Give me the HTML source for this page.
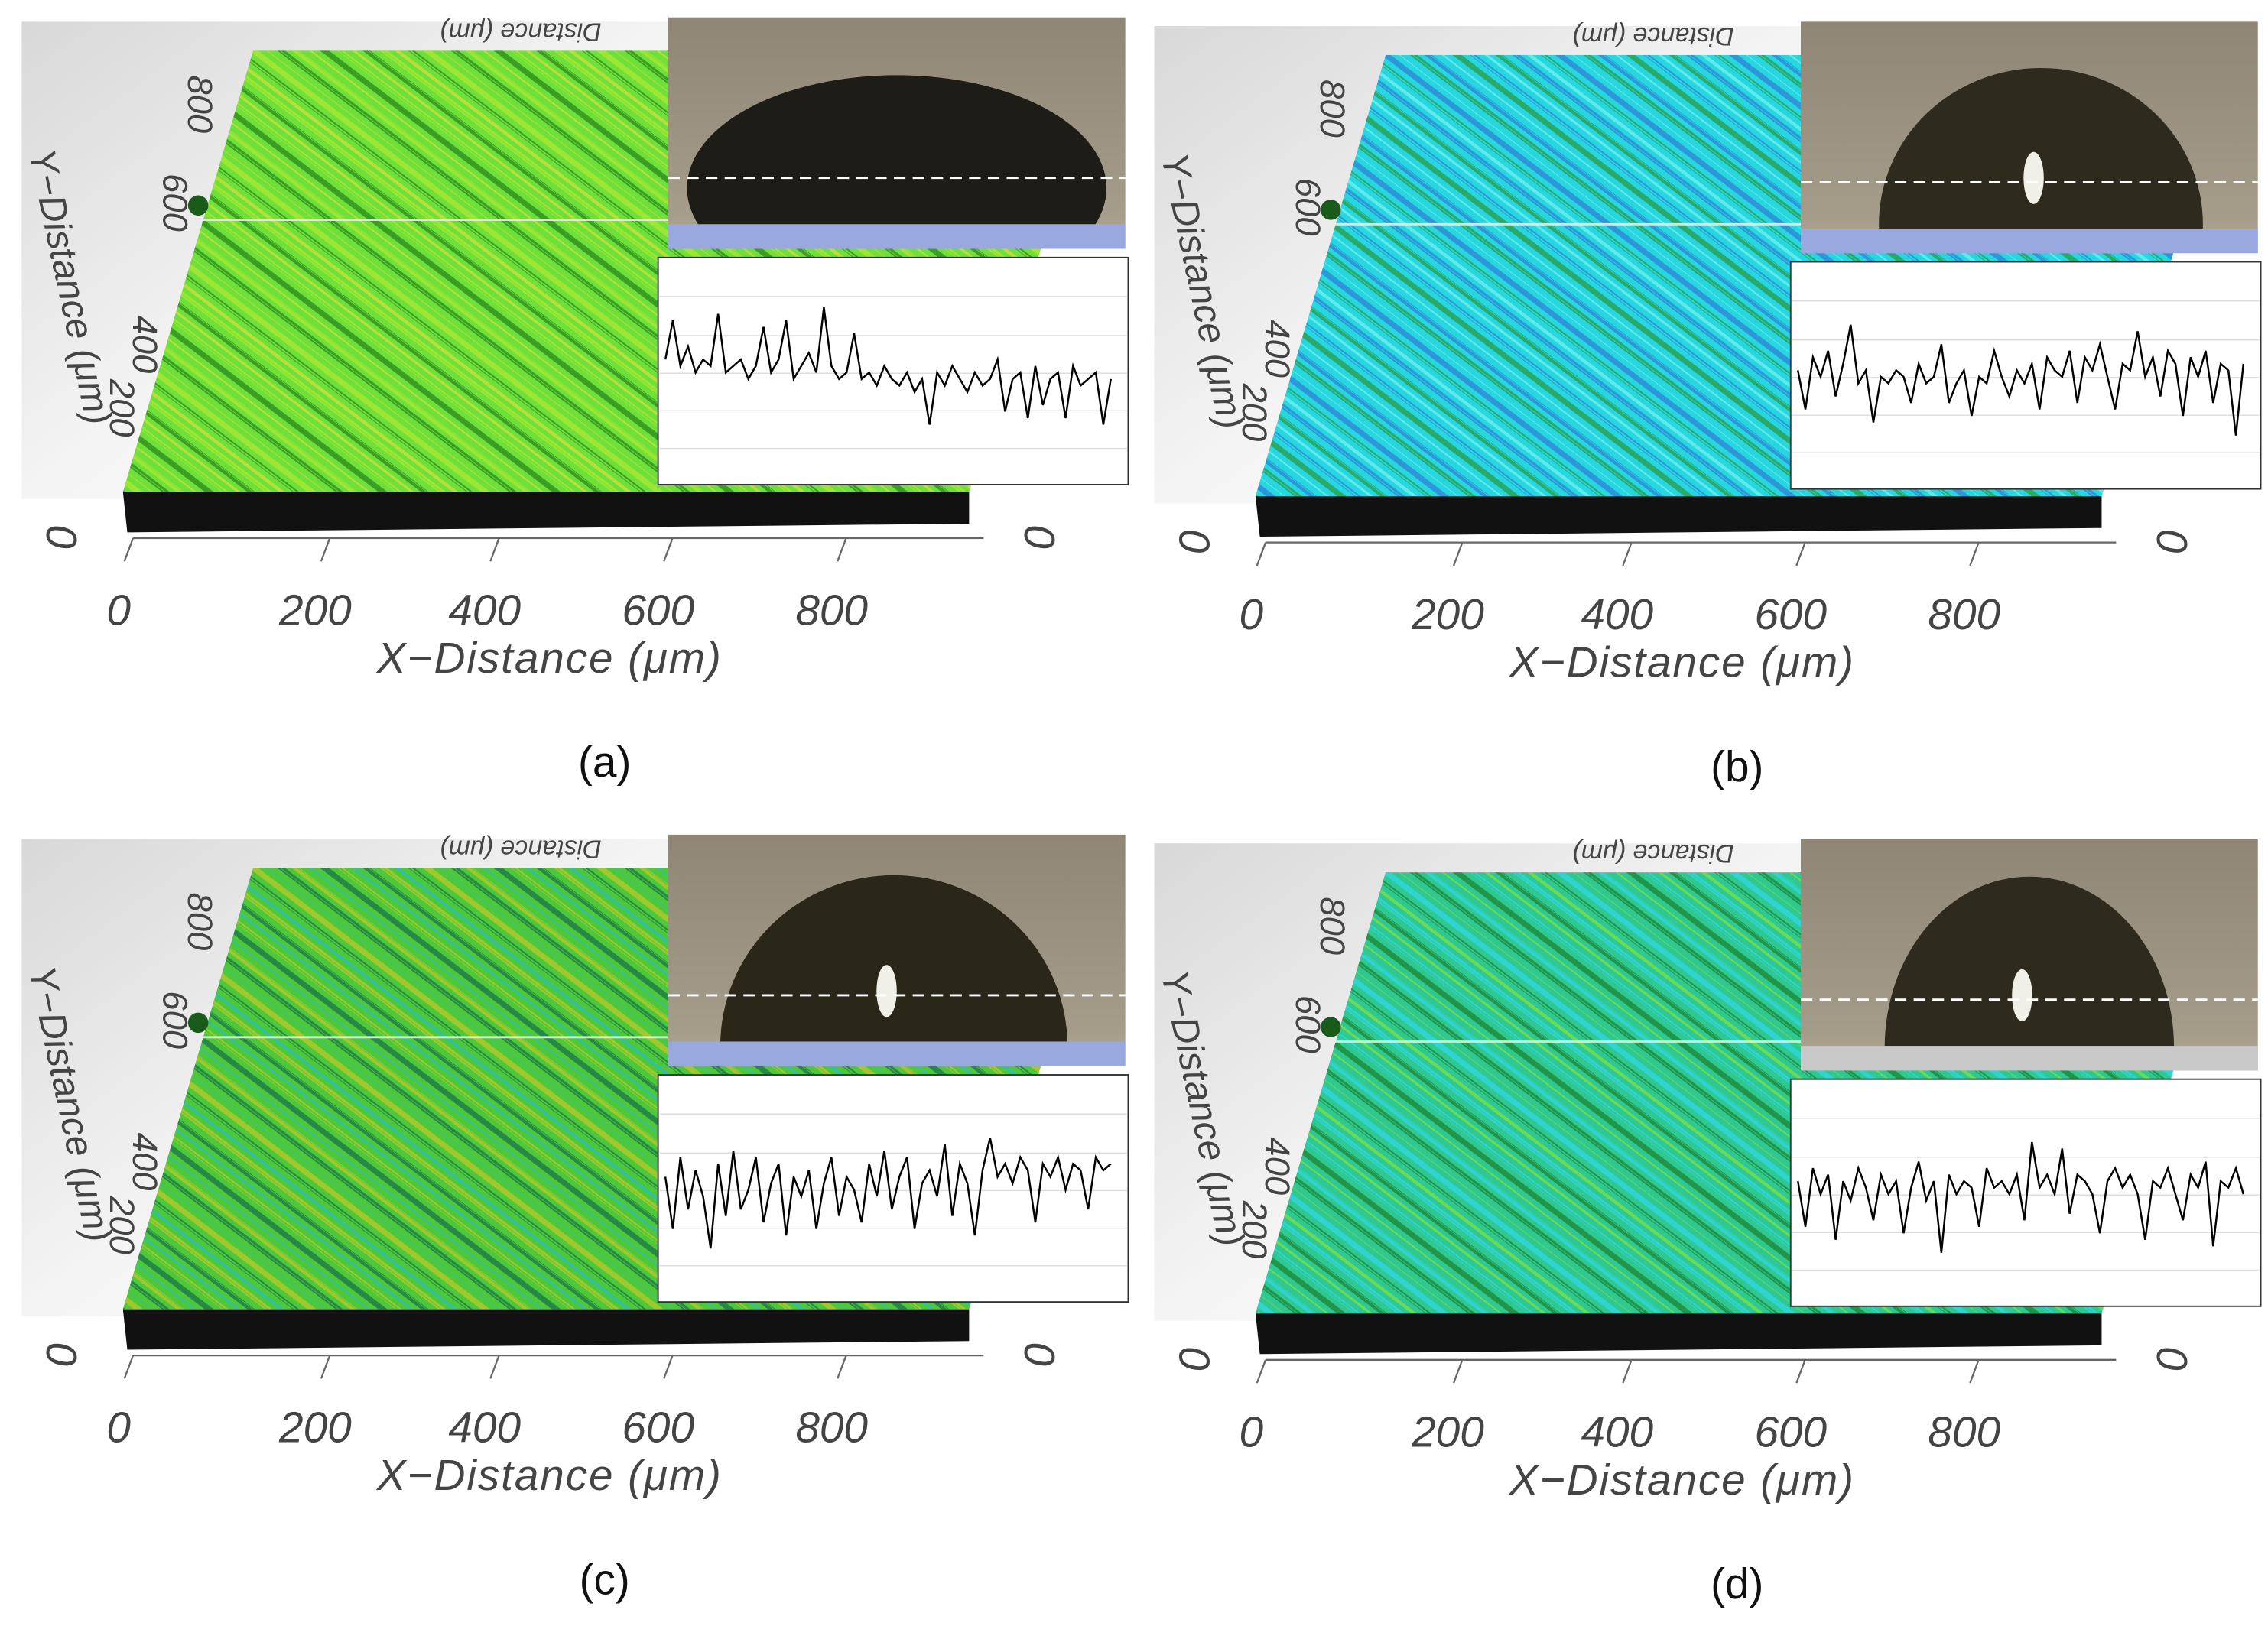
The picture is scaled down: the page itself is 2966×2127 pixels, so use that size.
<!DOCTYPE html>
<html><head><meta charset="utf-8">
<style>
html,body{margin:0;padding:0;background:#fff;}
svg{display:block;}
text{font-family:"Liberation Sans",sans-serif;}
</style></head>
<body>
<svg id="fig" width="2966" height="2127" viewBox="0 0 1568 1124" preserveAspectRatio="none" xmlns="http://www.w3.org/2000/svg">
<defs>
<linearGradient id="bgGrad" x1="0" y1="0" x2="1" y2="1">
<stop offset="0" stop-color="#d8d8d8"/><stop offset="0.5" stop-color="#f4f4f4"/><stop offset="1" stop-color="#ffffff"/>
</linearGradient>
<linearGradient id="photoBg" x1="0" y1="0" x2="0" y2="1">
<stop offset="0" stop-color="#8f8676"/><stop offset="0.85" stop-color="#a59c8a"/><stop offset="1" stop-color="#b5ad9a"/>
</linearGradient>
</defs>
</svg>
<script>
// profile data (relative height, positive = up), one array per panel
const profA=[0.3,0.9,0.2,0.5,0.1,0.3,0.2,1.0,0.1,0.2,0.3,0.0,0.2,0.8,0.1,0.3,0.9,0.0,0.2,0.4,0.1,1.1,0.2,0.0,0.1,0.7,0.0,0.1,-0.1,0.2,0.0,-0.1,0.1,-0.2,0.0,-0.7,0.1,-0.1,0.2,0.0,-0.2,0.1,-0.1,0.0,0.3,-0.5,0.0,0.1,-0.6,0.2,-0.4,0.0,0.1,-0.6,0.2,-0.1,0.0,0.1,-0.7,0.0];
const profB=[0.2,-0.4,0.4,0.1,0.5,-0.2,0.3,0.9,0.0,0.2,-0.6,0.1,0.0,0.2,0.1,-0.3,0.3,0.0,0.1,0.6,-0.3,0.0,0.2,-0.5,0.1,0.0,0.5,0.1,-0.2,0.2,0.0,0.3,-0.4,0.4,0.2,0.1,0.5,-0.3,0.4,0.2,0.6,0.1,-0.4,0.3,0.2,0.8,0.1,0.4,-0.2,0.5,0.3,-0.5,0.4,0.1,0.5,-0.3,0.3,0.2,-0.8,0.3];
const profC=[0.3,-0.5,0.6,-0.2,0.4,0.0,-0.8,0.5,-0.3,0.7,-0.2,0.1,0.6,-0.4,0.2,0.5,-0.6,0.3,0.0,0.4,-0.5,0.2,0.6,-0.3,0.3,0.1,-0.4,0.5,0.0,0.7,-0.2,0.3,0.6,-0.5,0.2,0.4,0.0,0.8,-0.3,0.5,0.2,-0.6,0.4,0.9,0.3,0.5,0.2,0.6,0.4,-0.4,0.5,0.3,0.6,0.1,0.5,0.4,-0.2,0.6,0.4,0.5];
const profD=[0.3,-0.4,0.5,0.1,0.4,-0.6,0.3,0.0,0.5,0.2,-0.3,0.4,0.1,0.3,-0.5,0.2,0.6,0.0,0.3,-0.8,0.4,0.1,0.3,0.2,-0.4,0.5,0.2,0.3,0.1,0.4,-0.3,0.9,0.2,0.4,0.1,0.8,-0.2,0.4,0.3,0.1,-0.5,0.3,0.5,0.2,0.4,0.1,-0.6,0.3,0.2,0.5,0.1,-0.3,0.4,0.2,0.6,-0.7,0.3,0.2,0.5,0.1];
const xTicks=["0","200","400","600","800"];
const yTicks=["200","400","600","800"];

const NS="http://www.w3.org/2000/svg";
const svg=document.getElementById('fig');
function mk(tag,attrs,parent){const e=document.createElementNS(NS,tag);for(const k in attrs)e.setAttribute(k,attrs[k]);(parent||svg).appendChild(e);return e;}

const panels=[
 {label:'(a)',dx:0,dy:0,base:'#6fe03a',s1:'#a9e832',s2:'#2e8f1f',s3:'#c9e03a',prof:profA,drop:'#1e1c16',dropRx:145,dropRy:78,dropCx:620,dropTop:52,sub:'#9aa8e0'},
 {label:'(b)',dx:783,dy:3,base:'#28d6e0',s1:'#2f88d8',s2:'#2aa050',s3:'#70f0f0',prof:profB,drop:'#2e2a1e',dropRx:112,dropRy:108,dropCx:628,dropTop:44,sub:'#9aa8e0'},
 {label:'(c)',dx:0,dy:565,base:'#4cc83a',s1:'#b5c82a',s2:'#1f7a4a',s3:'#30c0b0',prof:profC,drop:'#2a2618',dropRx:120,dropRy:118,dropCx:618,dropTop:40,sub:'#9aa8e0'},
 {label:'(d)',dx:783,dy:568,base:'#2ec890',s1:'#30d8e0',s2:'#1e8a3a',s3:'#7ae04a',prof:profD,drop:'#2e2a1e',dropRx:100,dropRy:118,dropCx:620,dropTop:38,sub:'#c8c8c8'}
];

const profX0=460, profX1=768, profY=262, profAmp=45;
function xScale(i,n){return profX0+(profX1-profX0)*i/(n-1);}
function yScale(v){return profY-v*profAmp;}

panels.forEach((p,pi)=>{
 const g=mk('g',{transform:`translate(${p.dx},${p.dy})`});
 
 
 const bg=mk('rect',{x:15,y:15,width:450,height:330,fill:'url(#bgGrad)'},g);
 
 
 const clipId='clip'+pi;
 const cp=mk('clipPath',{id:clipId},g);
 mk('polygon',{points:'175,35 760,35 670,340 85,340'},cp);
 const surf=mk('g',{'clip-path':`url(#${clipId})`},g);
 
 
 mk('rect',{x:80,y:30,width:700,height:320,fill:p.base},surf);
 const cols=[p.s1,p.s2,p.s3,p.s1,p.s2];
 for(let k=0;k<190;k++){
   const x=-400+k*6+((k*37)%5);
   const c=cols[(k*7)%5];
   const w=((k*13)%4)*0.6+0.5;
   mk('line',{x1:x,y1:30,x2:x+420,y2:350,stroke:c,'stroke-width':w,opacity:0.8},surf);
 }
 const base=mk('polygon',{points:'85,340 670,340 670,362 88,368',fill:'#111'},g);
 
 
 mk('line',{x1:140,y1:152,x2:470,y2:152,stroke:'#e8f0e0','stroke-width':1.5,opacity:0.9},g);
 const dot=mk('circle',{cx:137,cy:142,r:7,fill:'#1a5a1a'},g);
 
 
 const ph=mk('g',{},g);
 
 
 mk('rect',{x:462,y:12,width:316,height:160,fill:'url(#photoBg)'},ph);
 const cpp='pclip'+pi;
 const cp2=mk('clipPath',{id:cpp},g);
 mk('rect',{x:462,y:12,width:316,height:143},cp2);
 mk('ellipse',{cx:p.dropCx,cy:p.dropTop+p.dropRy,rx:p.dropRx,ry:p.dropRy,fill:p.drop,'clip-path':`url(#${cpp})`},ph);
 if(pi>0){mk('ellipse',{cx:p.dropCx-5,cy:120,rx:7,ry:18,fill:'#f0f0e8'},ph);}
 mk('rect',{x:462,y:155,width:316,height:17,fill:p.sub},ph);
 mk('line',{x1:462,y1:123,x2:778,y2:123,stroke:'#fff','stroke-width':1.5,'stroke-dasharray':'8,5'},ph);
 const pr=mk('g',{},g);
 
 
 mk('rect',{x:455,y:178,width:325,height:157,fill:'#fff',stroke:'#333','stroke-width':1},pr);
 [205,232,258,284,310].forEach(y=>mk('line',{x1:456,y1:y,x2:779,y2:y,stroke:'#ddd','stroke-width':0.8},pr));
 let d='';
 const n=p.prof.length;
 p.prof.forEach((v,i)=>{d+=(i?'L':'M')+xScale(i,n).toFixed(1)+','+yScale(v).toFixed(1);});
 const pl=mk('path',{d:d,fill:'none',stroke:'#000','stroke-width':1.3},pr);
 
 
 const ax=mk('g',{fill:'#444','font-size':30},g);
 
 
 mk('line',{x1:92,y1:372,x2:680,y2:372,stroke:'#666','stroke-width':1.2},ax);
 const tx=[82,218,335,455,575];
 xTicks.forEach((t,i)=>{
   mk('line',{x1:tx[i]+10,y1:372,x2:tx[i]+4,y2:388,stroke:'#666','stroke-width':1.2},ax);
   const te=mk('text',{x:tx[i],y:432,'text-anchor':'middle','font-style':'italic'},ax);te.textContent=t;
   
   
 });
 const xt=mk('text',{x:380,y:465,'text-anchor':'middle','font-style':'italic','letter-spacing':'1'},ax);
 xt.textContent='X\u2212Distance (\u03bcm)';
 
 
 const z=mk('text',{x:718,y:383,'text-anchor':'middle','font-style':'italic',transform:'rotate(-90 718 372)'},ax);z.textContent='0';
 const z2=mk('text',{x:42,y:383,'text-anchor':'middle','font-style':'italic',transform:'rotate(-90 42 372)'},ax);z2.textContent='0';
 const ya=mk('g',{fill:'#444','font-size':24,'font-style':'italic'},g);
 
 
 const yp=[[76,282],[92,238],[113,140],[130,72]];
 yTicks.forEach((t,i)=>{const te=mk('text',{x:yp[i][0],y:yp[i][1],'text-anchor':'middle',transform:`rotate(90 ${yp[i][0]} ${yp[i][1]})`},ya);te.textContent=t;
   
   });
 const yt=mk('text',{x:40,y:200,'text-anchor':'middle',transform:'rotate(78 40 200)','font-size':26},ya);yt.textContent='Y\u2212Distance (\u03bcm)';
 
 
 const tt=mk('text',{x:360,y:28,'text-anchor':'middle','font-size':18,transform:'rotate(180 360 22)'},ya);tt.textContent='Distance (\u03bcm)';
 const cap=mk('text',{x:418,y:537,'text-anchor':'middle','font-size':30,'font-family':'Liberation Serif, serif',fill:'#111'},g);
 cap.textContent=p.label;
 
 
});
</script>
</body></html>
